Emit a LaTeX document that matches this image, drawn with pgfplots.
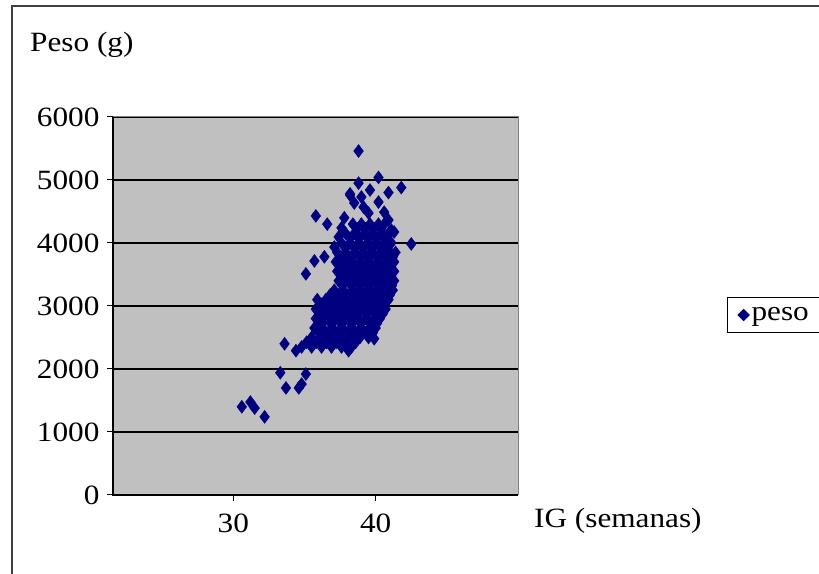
\documentclass[border=0pt]{standalone}
\usepackage{fontspec}
\setmainfont{Liberation Serif}[FakeStretch=1.12]
\usepackage{pgfplots}
\pgfplotsset{compat=1.18}
\definecolor{navy}{RGB}{0,0,128}
\definecolor{plotgray}{RGB}{192,192,192}
\begin{document}
\begin{tikzpicture}[x=1bp,y=1bp]
\begin{axis}[
    name=ax,
    scale only axis, width=405bp, height=378bp,
    xmin=21.55, xmax=50, ymin=0, ymax=6000,
    xtick={30,40}, ytick={0,1000,...,6000},
    xtick pos=bottom, ytick pos=left,
    tick align=outside, major tick length=6bp,
    tick style={black, line width=1bp},
    axis line style={draw=none},
    axis background/.style={fill=plotgray},
    ymajorgrids, grid style={black, line width=1.5bp},
    ticklabel style={font=\fontsize{28}{32}\selectfont},
    /pgf/number format/assume math mode=true,
    /pgf/number format/1000 sep={},
    xticklabel style={yshift=-9bp},
    yticklabel style={xshift=-4bp},
    clip=false,
    legend style={at={(1.516,0.476)}, anchor=west, draw=black, line width=1.2bp,
      font=\fontsize{28}{32}\selectfont, inner xsep=10bp, inner ysep=8bp,
      legend cell align=left},
    legend image code/.code={\fill[navy] (0.05cm,0) -- (0.24cm,0.19cm) -- (0.43cm,0) -- (0.24cm,-0.19cm) -- cycle;},
  ]
\coordinate (O) at (rel axis cs:0,0);
\draw[gray, line width=1bp] (rel axis cs:0,1) -- (rel axis cs:1,1) -- (rel axis cs:1,0);
\draw[black, line width=1.5bp] (rel axis cs:0,1) -- (rel axis cs:0,0) -- (rel axis cs:1,0);
\addplot[only marks, mark=diamond*, mark size=6.5bp, mark options={fill=navy, draw=navy}] coordinates {
(38.8,5460) (40.2,5040) (41.8,4880) (40.9,4800) (38.8,4950) (38.2,4780)
(35.8,4430) (36.6,4300) (42.5,3985) (35.1,3510) (35.7,3715) (36.4,3780)
(33.6,2400) (34.4,2290) (38.1,2290) (39.9,2480) (33.3,1940) (35.1,1920)
(33.7,1700) (34.6,1700) (34.8,1760) (30.6,1400) (31.2,1475) (31.5,1380) (32.2,1240)
(38.2,4760) (39.0,4730) (39.6,4840) (40.2,4650) (38.5,4635) (39.15,4570)
(39.5,4475) (40.6,4490) (40.9,4365) (41.1,4205) (41.3,4175) (37.8,4400)
(37.6,4240) (37.4,4095) (37.1,3935)
(38.4,4300) (39.0,4300) (39.6,4300) (40.2,4300) (40.6,4300)
(38.7,4225) (39.3,4225) (39.9,4225) (40.4,4225)
(37.9,4150) (38.5,4150) (39.2,4150) (39.8,4150) (40.4,4150) (40.9,4150)
(38.2,4075) (38.85,4075) (39.5,4075) (40.1,4075) (40.65,4075)
(37.6,4000) (38.2,4000) (38.8,4000) (39.4,4000) (40.0,4000) (40.6,4000) (41.1,4000)
(37.9,3925) (38.5,3925) (39.1,3925) (39.7,3925) (40.3,3925) (40.85,3925)
(37.3,3850) (37.9,3850) (38.6,3850) (39.2,3850) (39.8,3850) (40.4,3850) (41.0,3850) (41.4,3850)
(37.6,3775) (38.25,3775) (38.9,3775) (39.5,3775) (40.1,3775) (40.7,3775) (41.2,3775)
(37.2,3700) (37.8,3700) (38.4,3700) (39.0,3700) (39.6,3700) (40.2,3700) (40.8,3700) (41.3,3700)
(37.5,3625) (38.1,3625) (38.7,3625) (39.3,3625) (39.9,3625) (40.5,3625) (41.05,3625)
(37.3,3550) (37.9,3550) (38.5,3550) (39.1,3550) (39.7,3550) (40.3,3550) (40.9,3550) (41.3,3550)
(37.6,3475) (38.2,3475) (38.8,3475) (39.4,3475) (40.0,3475) (40.6,3475) (41.1,3475)
(37.4,3400) (38.0,3400) (38.6,3400) (39.2,3400) (39.8,3400) (40.4,3400) (41.0,3400) (41.3,3400)
(37.7,3325) (38.3,3325) (38.9,3325) (39.5,3325) (40.1,3325) (40.7,3325) (41.15,3325)
(37.1,3250) (37.7,3250) (38.4,3250) (39.0,3250) (39.6,3250) (40.2,3250) (40.8,3250) (41.2,3250)
(36.8,3175) (37.4,3175) (38.05,3175) (38.7,3175) (39.3,3175) (39.9,3175) (40.5,3175) (41.0,3175)
(35.9,3100) (36.5,3100) (37.1,3100) (37.8,3100) (38.5,3100) (39.1,3100) (39.7,3100) (40.3,3100) (40.9,3100)
(36.2,3025) (36.8,3025) (37.45,3025) (38.15,3025) (38.8,3025) (39.4,3025) (40.0,3025) (40.6,3025)
(35.8,2950) (36.4,2950) (37.1,2950) (37.8,2950) (38.5,2950) (39.1,2950) (39.7,2950) (40.3,2950) (40.7,2950)
(36.1,2875) (36.75,2875) (37.45,2875) (38.15,2875) (38.8,2875) (39.4,2875) (40.0,2875) (40.5,2875)
(35.8,2800) (36.5,2800) (37.2,2800) (37.9,2800) (38.6,2800) (39.3,2800) (39.9,2800) (40.3,2800)
(36.15,2725) (36.85,2725) (37.55,2725) (38.25,2725) (38.95,2725) (39.6,2725) (40.1,2725)
(35.7,2650) (36.3,2650) (37.0,2650) (37.7,2650) (38.4,2650) (39.0,2650) (39.6,2650) (40.0,2650)
(36.0,2575) (36.65,2575) (37.35,2575) (38.05,2575) (38.7,2575) (39.3,2575) (39.8,2575)
(35.5,2500) (36.2,2500) (36.9,2500) (37.6,2500) (38.3,2500) (38.9,2500) (39.5,2500)
(35.15,2425) (35.85,2425) (36.55,2425) (37.25,2425) (37.95,2425) (38.6,2425)
(34.8,2350) (35.5,2350) (36.2,2350) (36.9,2350) (37.6,2350) (38.3,2350)
};
\addlegendentry{peso}
\end{axis}
\begin{scope}[shift={([shift={(-113,-79)}]O)}]
  % chart frame (cut at right and bottom)
  \draw[line width=1.5bp, black!75] (12,-10) -- (12,568) -- (840,568);
  \node[anchor=base west, inner sep=0pt, font=\fontsize{28}{32}\selectfont] at (30,522) {Peso (g)};
  \node[anchor=base west, inner sep=0pt, font=\fontsize{28}{32}\selectfont] at (534,46) {IG (semanas)};
  \pgfresetboundingbox
  \useasboundingbox (0,0) rectangle (819,574);
\end{scope}
\end{tikzpicture}
\end{document}
